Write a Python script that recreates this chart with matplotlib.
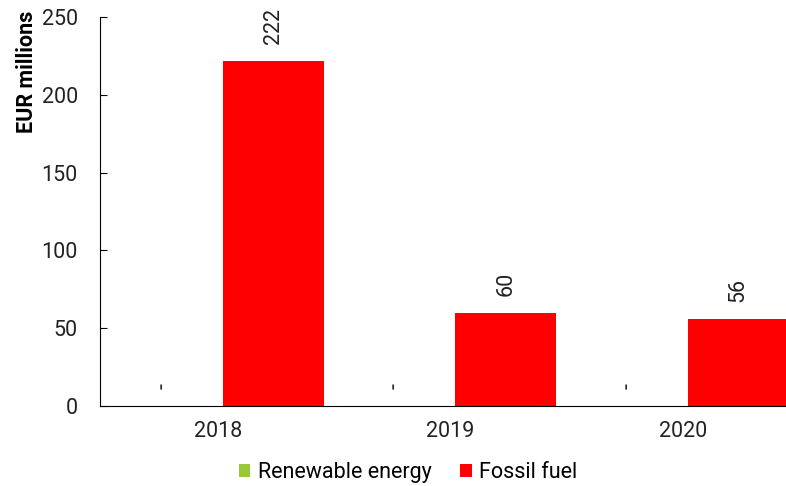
import numpy as np
import matplotlib.pyplot as plt

plt.rcParams['font.family'] = ['Roboto', 'DejaVu Sans']

years = ['2018', '2019', '2020']
renewable = [0, 0, 0]
fossil = [222, 60, 56]

fig = plt.figure(figsize=(7.86, 4.86), dpi=100)
ax = fig.add_axes([0.1272, 0.1646, 0.8728, 0.8004])

x = np.arange(len(years))
w = 0.435
fs = 15.5
b1 = ax.bar(x - 0.238, renewable, w, color='#99C93A', label='Renewable energy')
b2 = ax.bar(x + 0.238, fossil, w, color='#FF0000', label='Fossil fuel')

for bars, vals in ((b1, renewable), (b2, fossil)):
    for r, v in zip(bars, vals):
        txt = '-' if v == 0 else str(v)
        ax.annotate(txt, (r.get_x() + r.get_width() / 2, v), xytext=(0, 12),
                    textcoords='offset points', rotation=90, ha='center',
                    va='bottom', fontsize=fs, color='#222222')

ax.set_ylim(0, 250)
ax.set_yticks(range(0, 251, 50))
ax.set_xlim(-0.5075, 2.443)
ax.set_xticks(x)
ax.set_xticklabels(years)
ax.tick_params(axis='x', length=0, pad=11, labelsize=fs, colors='#222222')
ax.tick_params(axis='y', direction='in', length=5, pad=16, labelsize=fs,
               colors='#222222')
ax.tick_params(axis='y', color='black')
ax.spines['top'].set_visible(False)
ax.spines['right'].set_visible(False)
ax.set_ylabel('EUR millions', fontsize=fs, fontweight='bold')
ax.yaxis.set_label_coords(-0.09, 0.86)

fig.legend(handles=[b1, b2], loc='lower center', bbox_to_anchor=(0.519, -0.033),
           ncol=2, frameon=False, fontsize=fs, handlelength=0.55,
           handleheight=0.55, handletextpad=0.35, columnspacing=1.3)

fig.savefig('out.png', dpi=100)
